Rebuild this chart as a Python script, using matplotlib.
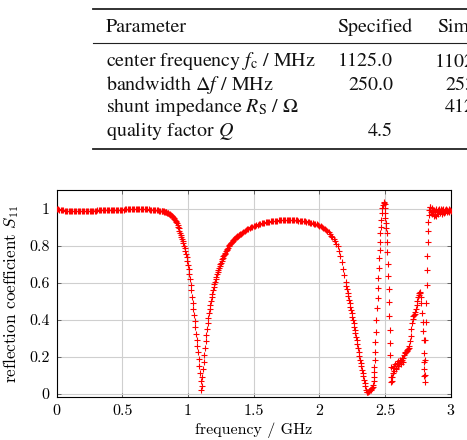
import numpy as np
import matplotlib
matplotlib.use("Agg")
import matplotlib.pyplot as plt
from matplotlib.lines import Line2D

# ---- table ----
table_header = ["Parameter", "Specified", "Simulated"]
table_params = [r"center frequency $f_\mathrm{c}$ / MHz",
                r"bandwidth $\Delta f$ / MHz",
                r"shunt impedance $R_\mathrm{S}$ / $\Omega$",
                r"quality factor $Q$"]
table_specified = ["1125.0", "250.0", "", "4.5"]
table_simulated = ["1102.9", "253.4", "412.6", ""]

# ---- S11 measurement, read off the plot ----
# 0.00 .. 0.79 GHz, step 0.01
f_flat = np.round(np.arange(0.0, 0.795, 0.01), 3)
s_flat = [1.000, 0.998, 0.996, 0.995, 0.994, 0.993, 0.992, 0.992, 0.991, 0.991,
          0.991, 0.991, 0.991, 0.991, 0.991, 0.991, 0.991, 0.991, 0.991, 0.991,
          0.991, 0.991, 0.991, 0.991, 0.992, 0.992, 0.992, 0.992, 0.992, 0.992,
          0.992, 0.993, 0.993, 0.993, 0.993, 0.994, 0.994, 0.994, 0.995, 0.995,
          0.995, 0.995, 0.996, 0.996, 0.996, 0.996, 0.997, 0.997, 0.997, 0.997,
          0.997, 0.997, 0.998, 0.998, 0.998, 0.998, 0.998, 0.998, 0.998, 0.998,
          0.998, 0.998, 0.998, 0.998, 0.998, 0.998, 0.998, 0.998, 0.998, 0.998,
          0.998, 0.997, 0.997, 0.997, 0.996, 0.996, 0.995, 0.994, 0.992, 0.990]

# 0.800 .. 1.400 GHz, step 0.005 (first resonance)
f_dip = np.round(np.arange(0.8, 1.4025, 0.005), 3)
s_dip = [0.989, 0.988, 0.988, 0.987, 0.986, 0.985, 0.984, 0.982, 0.980, 0.978,
         0.976, 0.974, 0.972, 0.969, 0.966, 0.963, 0.960, 0.956, 0.952, 0.948,
         0.943, 0.937, 0.930, 0.922, 0.913, 0.905, 0.895, 0.884, 0.873, 0.862,
         0.850, 0.838, 0.826, 0.814, 0.802, 0.790, 0.775, 0.758, 0.740, 0.720,
         0.698, 0.675, 0.650, 0.622, 0.592, 0.560, 0.527, 0.494, 0.460, 0.427,
         0.393, 0.360, 0.327, 0.293, 0.259, 0.225, 0.190, 0.153, 0.112, 0.068,
         0.022, 0.045, 0.090, 0.135, 0.175, 0.213, 0.250, 0.285, 0.320, 0.352,
         0.382, 0.410, 0.436, 0.460, 0.482, 0.503, 0.523, 0.542, 0.560, 0.577,
         0.593, 0.608, 0.622, 0.635, 0.648, 0.660, 0.671, 0.682, 0.692, 0.702,
         0.711, 0.720, 0.728, 0.736, 0.744, 0.751, 0.758, 0.765, 0.771, 0.777,
         0.783, 0.789, 0.800, 0.805, 0.810, 0.815, 0.819, 0.823, 0.828, 0.832,
         0.836, 0.840, 0.843, 0.847, 0.850, 0.853, 0.856, 0.859, 0.862, 0.864,
         0.867]

# 1.41 .. 2.20 GHz, step 0.01 (broad maximum)
f_arch = np.round(np.arange(1.41, 2.205, 0.01), 3)
s_arch = [0.871, 0.876, 0.881, 0.886, 0.890, 0.894, 0.898, 0.902, 0.905, 0.908,
          0.911, 0.913, 0.916, 0.918, 0.920, 0.922, 0.924, 0.926, 0.928, 0.929,
          0.931, 0.932, 0.933, 0.934, 0.935, 0.936, 0.937, 0.938, 0.939, 0.939,
          0.940, 0.940, 0.941, 0.941, 0.941, 0.941, 0.941, 0.941, 0.940,
          0.940, 0.940, 0.939, 0.939, 0.938, 0.937, 0.936, 0.935, 0.934, 0.933,
          0.931, 0.930, 0.928, 0.927, 0.925, 0.923, 0.921, 0.919, 0.917, 0.914,
          0.911, 0.907, 0.903, 0.898, 0.893, 0.887, 0.881, 0.874, 0.866, 0.857,
          0.848, 0.838, 0.826, 0.813, 0.800, 0.775, 0.745, 0.712, 0.677, 0.641,
          0.604]

# 2.205 .. 2.410 GHz, step 0.005 (second minimum)
f_fall = np.round(np.arange(2.205, 2.4125, 0.005), 3)
s_fall = [0.585, 0.566, 0.547, 0.528, 0.509, 0.490, 0.472, 0.454, 0.436, 0.418,
          0.400, 0.382, 0.364, 0.346, 0.328, 0.310, 0.292, 0.271, 0.250, 0.229,
          0.207, 0.185, 0.167, 0.149, 0.131, 0.113, 0.095, 0.077, 0.059, 0.041,
          0.024, 0.012, 0.010, 0.012, 0.015, 0.018, 0.021, 0.024, 0.027, 0.032,
          0.040, 0.050]

# 2.41 .. 2.84 GHz, irregular samples (steep part)
f_spike = [2.413, 2.415, 2.417, 2.419, 2.421, 2.424, 2.427, 2.430, 2.434, 2.440,
           2.443, 2.446, 2.449, 2.452, 2.455, 2.458, 2.461, 2.464, 2.467, 2.470,
           2.474, 2.479, 2.484, 2.489, 2.493, 2.496, 2.498, 2.500, 2.503, 2.506,
           2.509, 2.512, 2.515, 2.518, 2.521, 2.524, 2.527, 2.530, 2.533, 2.536,
           2.538, 2.540, 2.543, 2.546, 2.549]
s_spike = [0.072, 0.094, 0.120, 0.148, 0.184, 0.229, 0.283, 0.337, 0.400, 0.463,
           0.517, 0.571, 0.625, 0.679, 0.733, 0.778, 0.823, 0.868, 0.904, 0.940,
           0.977, 1.004, 1.022, 1.035, 1.040, 1.030, 1.005, 0.977, 0.950, 0.923,
           0.896, 0.868, 0.823, 0.769, 0.703, 0.640, 0.568, 0.496, 0.420, 0.346,
           0.277, 0.210, 0.148, 0.094, 0.067]

f_ripple = [2.552, 2.556, 2.560, 2.564, 2.568, 2.572, 2.576, 2.580, 2.584, 2.588,
            2.592, 2.596, 2.600, 2.604, 2.608, 2.612, 2.616, 2.620, 2.624, 2.628,
            2.632, 2.636, 2.640, 2.645, 2.650, 2.655, 2.660, 2.665, 2.670, 2.675,
            2.680, 2.685, 2.690, 2.695, 2.700, 2.705, 2.710, 2.715, 2.720, 2.725,
            2.730, 2.735, 2.740, 2.745, 2.750, 2.755, 2.760, 2.765]
s_ripple = [0.070, 0.090, 0.115, 0.140, 0.125, 0.150, 0.160, 0.140, 0.135, 0.170,
            0.160, 0.150, 0.180, 0.170, 0.160, 0.185, 0.175, 0.165, 0.180, 0.195,
            0.185, 0.175, 0.195, 0.210, 0.220, 0.225, 0.228, 0.232, 0.236, 0.242,
            0.250, 0.262, 0.285, 0.315, 0.350, 0.385, 0.408, 0.420, 0.428, 0.435,
            0.445, 0.460, 0.480, 0.505, 0.525, 0.538, 0.546, 0.553]

f_notch = [2.768, 2.772, 2.776, 2.781, 2.786, 2.791, 2.795, 2.797, 2.798, 2.799,
           2.800, 2.801, 2.803, 2.805, 2.807, 2.811, 2.815, 2.818, 2.820, 2.822,
           2.824, 2.827, 2.830, 2.833, 2.836, 2.839]
s_notch = [0.548, 0.525, 0.490, 0.440, 0.390, 0.340, 0.290, 0.220, 0.175, 0.134,
           0.095, 0.067, 0.103, 0.184, 0.290, 0.390, 0.490, 0.589, 0.670, 0.748,
           0.820, 0.881, 0.928, 0.968, 0.995, 1.013]

# 2.840 .. 3.000 GHz, step 0.005
f_top = np.round(np.arange(2.84, 3.0025, 0.005), 3)
s_top = [1.010, 0.995, 0.985, 1.005, 0.975, 0.990, 0.960, 0.995, 0.970, 1.000,
         0.965, 0.985, 0.995, 0.975, 1.000, 0.980, 0.990, 1.000, 0.975, 0.995,
         0.985, 1.000, 0.980, 0.995, 0.985, 0.998, 0.982, 0.995, 0.990, 1.000,
         0.985, 0.995, 0.992]

freq = np.concatenate([f_flat, f_dip, f_arch, f_fall, f_spike, f_ripple, f_notch, f_top])
s11 = np.concatenate([s_flat, s_dip, s_arch, s_fall, s_spike, s_ripple, s_notch, s_top])

x_ticks = [0, 0.5, 1, 1.5, 2, 2.5, 3]
x_tick_labels = ["0", "0.5", "1", "1.5", "2", "2.5", "3"]
y_ticks = [0, 0.2, 0.4, 0.6, 0.8, 1]
y_tick_labels = ["0", "0.2", "0.4", "0.6", "0.8", "1"]

W, H = 467, 440
fig = plt.figure(figsize=(W / 100, H / 100), dpi=100)


def fx(px):
    return px / W


def fy(py):
    return 1 - py / H


# table rules
for py, lw in [(9.3, 1.3), (42.7, 0.8), (149.0, 1.3)]:
    fig.add_artist(Line2D([fx(93), fx(470)], [fy(py), fy(py)], color="#222222",
                          lw=lw, transform=fig.transFigure))

tkw = dict(family="STIXGeneral", math_fontfamily="stix", fontsize=14.4,
           va="baseline", color="#111111")
fig.text(fx(106), fy(32.5), table_header[0], ha="left", **tkw)
fig.text(fx(412.5), fy(32.5), table_header[1], ha="right", **tkw)
fig.text(fx(437), fy(32.5), table_header[2], ha="left", **tkw)
row_base = [66.5, 89.5, 112.5, 135.5]
for i in range(len(table_params)):
    fig.text(fx(106), fy(row_base[i]), table_params[i], ha="left", **tkw)
    fig.text(fx(393), fy(row_base[i]), table_specified[i], ha="right", **tkw)
    fig.text(fx(490), fy(row_base[i]), table_simulated[i], ha="right", **tkw)

# plot
ax = fig.add_axes([fx(56.7), fy(397), fx(450.7) - fx(56.7), fy(190) - fy(397)])
ax.plot(freq, s11, linestyle="none", marker="+", color="red", ms=4.6, mew=0.8,
        zorder=3)
ax.set_xlim(0, 3)
ax.set_ylim(-0.016, 1.103)
ax.set_xticks(x_ticks)
ax.set_yticks(y_ticks)
ax.set_xticklabels(x_tick_labels, family="cmr10", fontsize=11.5)
ax.set_yticklabels(y_tick_labels, family="cmr10", fontsize=11.5)
ax.grid(True, color="#cfcfcf", lw=0.8)
ax.set_axisbelow(True)
ax.tick_params(direction="in", length=3, width=0.6, color="#555555",
               top=True, right=True, pad=5)
for sp in ax.spines.values():
    sp.set_linewidth(0.8)
ax.set_xlabel("frequency / GHz", family="cmr10", math_fontfamily="cm",
              fontsize=11.5, labelpad=3.5)
ax.set_ylabel(r"reflection coefficient $S_{11}$", family="cmr10",
              math_fontfamily="cm", fontsize=12.3, labelpad=6)

fig.savefig("out.png", dpi=100)
